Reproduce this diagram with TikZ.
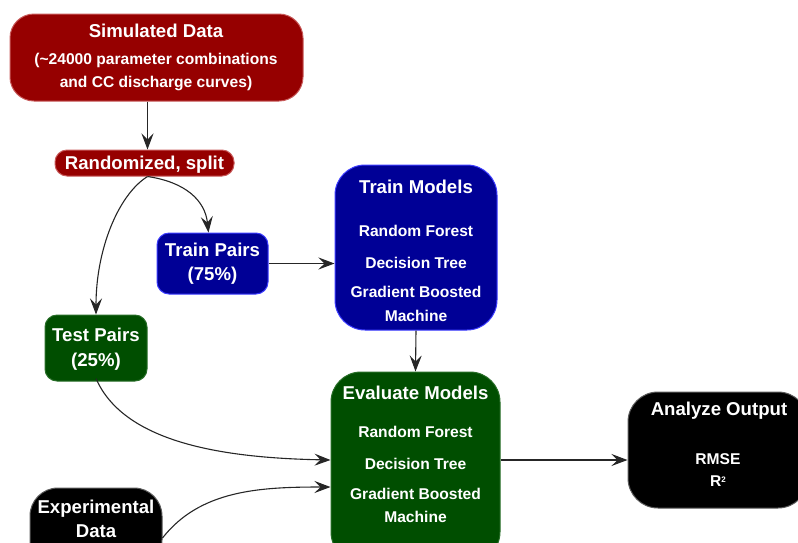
\documentclass[tikz,border=0pt]{standalone}
\usepackage{fontspec}
\setmainfont{Liberation Sans}
\usetikzlibrary{arrows.meta}
\definecolor{rbox}{RGB}{150,0,0}
\definecolor{rline}{RGB}{200,90,90}
\definecolor{bbox}{RGB}{0,0,150}
\definecolor{bline}{RGB}{60,60,255}
\definecolor{gbox}{RGB}{0,78,0}
\definecolor{gline}{RGB}{40,110,40}
\definecolor{kline}{RGB}{90,90,90}
\tikzset{
  boxbase/.style={rectangle, inner sep=0pt, line width=1pt},
  redbox/.style={boxbase, fill=rbox, draw=rline},
  bluebox/.style={boxbase, fill=bbox, draw=bline},
  greenbox/.style={boxbase, fill=gbox, draw=gline},
  blackbox/.style={boxbase, fill=black, draw=kline},
  ttl/.style={text=white, font=\bfseries\fontsize{18.6}{20}\selectfont, inner sep=0pt, text height=0.72em, text depth=0pt, yshift=-3pt},
  itm/.style={text=white, font=\bfseries\fontsize{15.6}{18}\selectfont, inner sep=0pt, text height=0.72em, text depth=0pt, yshift=-3pt},
  conn/.style={line width=1.1pt, draw=black!85, -{Stealth[length=16pt,width=12pt,inset=6pt]}},
}
\begin{document}
\begin{tikzpicture}[x=1pt,y=-1pt]
\useasboundingbox (0,0) rectangle (798,542);
\clip (0,0) rectangle (798,542);
% boxes
\node[redbox, minimum width=293, minimum height=87, rounded corners=24pt] (sim) at (156.5,57.5) {};
\node[redbox, minimum width=179, minimum height=26, rounded corners=12pt] (rs) at (144.5,163) {};
\node[bluebox, minimum width=111, minimum height=61, rounded corners=12pt] (trp) at (212.5,263.5) {};
\node[bluebox, minimum width=162, minimum height=165, rounded corners=30pt] (trm) at (416,247.5) {};
\node[greenbox, minimum width=102, minimum height=66, rounded corners=12pt] (tep) at (96,348) {};
\node[greenbox, minimum width=169, minimum height=190, rounded corners=30pt] (ev) at (415.5,467) {};
\node[blackbox, minimum width=180, minimum height=116, rounded corners=30pt] (an) at (718,450) {};
\node[blackbox, minimum width=132, minimum height=80, rounded corners=28pt] (ex) at (96,528) {};
% texts
\node[ttl] (simt) at (156,31) {Simulated Data};
\node[itm] (sim2) at (156,58) {(\char"7E 24000 parameter combinations};
\node[itm] (sim3) at (156,81) {and CC discharge curves)};
\node[ttl] (rst) at (144.5,163) {Randomized, split};
\node[ttl] (trpt) at (212.5,250) {Train Pairs};
\node[ttl] (trp2) at (212.5,274) {(75\%)};
\node[ttl] (trmt) at (416,187) {Train Models};
\node[itm] (trm1) at (416,230) {Random Forest};
\node[itm] (trm2) at (416,262) {Decision Tree};
\node[itm] (trm3) at (416,291) {Gradient Boosted};
\node[itm] (trm4) at (416,315) {Machine};
\node[ttl] (tept) at (96,335) {Test Pairs};
\node[ttl] (tep2) at (96,360) {(25\%)};
\node[ttl] (evt) at (415.5,393) {Evaluate Models};
\node[itm] (ev1) at (415.5,431) {Random Forest};
\node[itm] (ev2) at (415.5,463) {Decision Tree};
\node[itm] (ev3) at (415.5,493) {Gradient Boosted};
\node[itm] (ev4) at (415.5,516) {Machine};
\node[ttl] (ant) at (719,409) {Analyze Output};
\node[itm] (an1) at (718,458) {RMSE};
\node[itm] (an2) at (718,480) {R\raisebox{0.5ex}{\fontsize{8}{9}\selectfont 2}};
\node[ttl] (ext) at (96,507) {Experimental};
\node[ttl] (ex2) at (96,531) {Data};
% connectors
\draw[conn] (sim.south -| rs.south) ++(3,0) coordinate (s1) -- (s1 |- rs.north);
\coordinate (rsb) at ([xshift=3pt]rs.south);
\draw[conn] (rsb) .. controls (185,182) and (205,200) .. ([xshift=-4pt]trp.north);
\draw[conn] (rsb) .. controls (118,195) and (96,250) .. (tep.north);
\draw[conn] (trp.east) -- (trm.west |- trp.east);
\draw[conn] (trm.south) -- (ev.north);
\draw[conn] ([yshift=3pt]tep.south) .. controls (125,445) and (230,458) .. (ev.west |- 0,460);
\draw[conn] ([yshift=-10pt]ex.east) .. controls (200,490) and (260,487) .. (ev.west |- 0,487);
\draw[conn] (ev.east |- 0,460) -- (an.west |- 0,460);
\end{tikzpicture}
\end{document}
